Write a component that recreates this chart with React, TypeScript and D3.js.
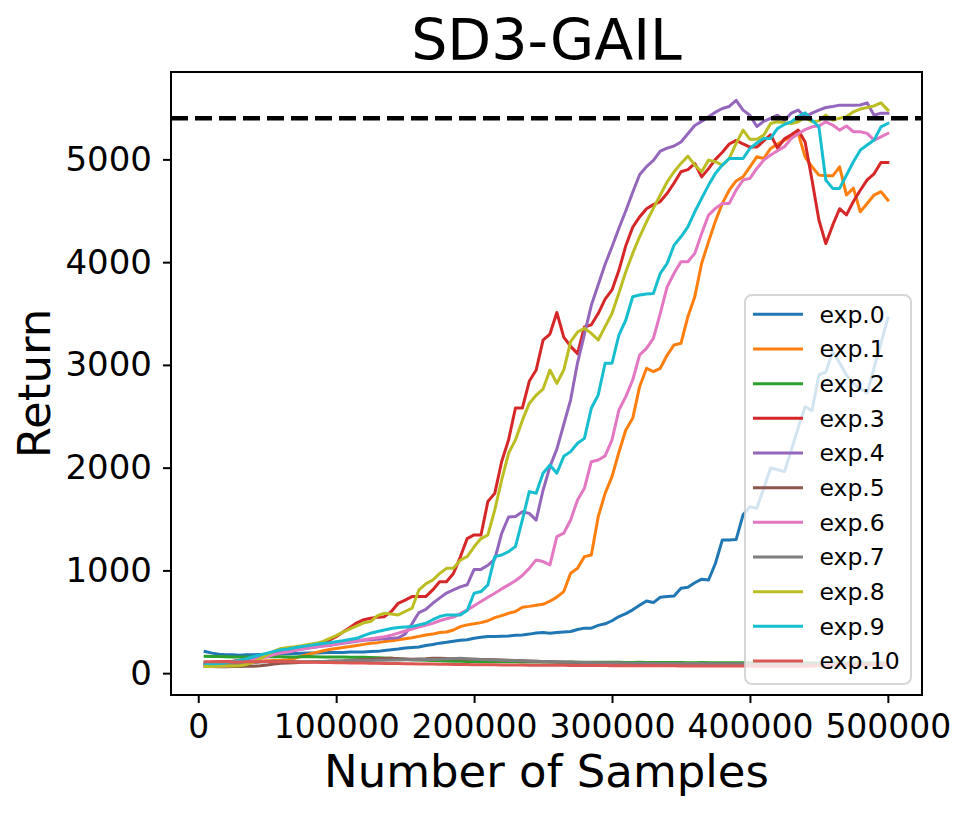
import React, { useRef, useEffect } from 'react';
import * as d3 from 'd3';

// samples are logged every 5000 steps, 5000 ... 500000
const STEP = 5000;
const SAMPLES = d3.range(1, 101).map(k => k * STEP);

const EXP_0 = [
  210, 195, 185, 180, 178, 175, 178, 180, 182, 185,
  188, 190, 190, 192, 193, 195, 196, 198, 200, 200,
  202, 205, 205, 207, 210, 212, 220, 228, 235, 245,
  250, 255, 270, 278, 292, 300, 310, 320, 325, 340,
  350, 356, 356, 360, 362, 368, 372, 380, 390, 395,
  389, 395, 400, 405, 425, 438, 438, 465, 480, 510,
  551, 580, 616, 660, 703, 687, 739, 745, 752, 827,
  837, 880, 915, 907, 1070, 1297, 1297, 1300, 1540, 1621,
  1605, 1800, 1997, 1980, 1961, 2170, 2390, 2593, 2555, 2902,
  2930, 3128, 3020, 2900, 2820, 2770, 2726, 2970, 3210, 3456,
];
const EXP_1 = [
  95, 95, 98, 100, 102, 105, 108, 110, 115, 120,
  122, 125, 130, 145, 165, 185, 200, 215, 230, 240,
  250, 259, 270, 280, 290, 297, 307, 315, 325, 335,
  345, 358, 372, 380, 395, 400, 420, 453, 470, 480,
  492, 510, 540, 560, 583, 600, 642, 650, 660, 670,
  700, 740, 794, 973, 1021, 1134, 1150, 1523, 1750, 1913,
  2150, 2367, 2480, 2788, 2967, 2934, 2967, 3096, 3194, 3210,
  3469, 3663, 3990, 4200, 4400, 4572, 4700, 4790, 4831, 4928,
  5025, 5009, 5107, 5150, 5188, 5220, 5253, 5025, 4928, 4847,
  4840, 4840, 4928, 4653, 4720, 4490, 4570, 4653, 4686, 4604,
];
const EXP_2 = [
  165, 163, 162, 160, 158, 158, 157, 158, 160, 160,
  161, 160, 158, 158, 160, 161, 160, 158, 158, 157,
  157, 156, 155, 154, 152, 150, 148, 145, 140, 135,
  130, 128, 125, 122, 120, 118, 116, 115, 114, 113,
  112, 112, 111, 110, 110, 111, 109, 109, 108, 108,
  108, 107, 107, 108, 106, 106, 107, 105, 105, 106,
  105, 104, 104, 105, 104, 103, 103, 104, 103, 103,
  102, 102, 103, 102, 102, 101, 101, 102, 101, 101,
  101, 100, 101, 100, 100, 101, 100, 100, 101, 100,
  100, 101, 100, 100, 100, 101, 100, 100, 100, 100,
];
const EXP_3 = [
  100, 105, 110, 110, 115, 125, 140, 150, 160, 175,
  190, 200, 215, 225, 240, 255, 265, 285, 320, 355,
  400, 445, 490, 520, 535, 545, 550, 600, 680, 710,
  745, 745, 745, 810, 890, 890, 970, 1130, 1310, 1345,
  1345, 1670, 1750, 2060, 2270, 2580, 2580, 2840, 2950, 3240,
  3300, 3510, 3270, 3180, 3110, 3370, 3390, 3500, 3640, 3730,
  3920, 4160, 4340, 4440, 4520, 4560, 4590, 4670, 4770, 4880,
  4900, 4960, 4830, 4910, 5000, 5070, 5150, 5185, 5150, 5120,
  5120, 5180, 5240, 5110, 5200, 5240, 5285, 5170, 4800, 4410,
  4180, 4360, 4520, 4460, 4590, 4700, 4800, 4860, 4970, 4970,
];
const EXP_4 = [
  90, 85, 85, 90, 95, 110, 130, 150, 165, 180,
  195, 205, 215, 225, 235, 245, 255, 265, 270, 280,
  290, 300, 310, 320, 325, 330, 335, 340, 345, 380,
  480, 590, 620, 680, 730, 780, 810, 840, 860, 1010,
  1010, 1050, 1110, 1360, 1520, 1525, 1570, 1555, 1490, 1780,
  2010, 2180, 2420, 2660, 3020, 3300, 3580, 3780, 3980, 4150,
  4330, 4500, 4680, 4850, 4930, 4990, 5080, 5110, 5130, 5170,
  5250, 5330, 5370, 5415, 5460, 5495, 5515, 5575, 5480, 5430,
  5320, 5370, 5400, 5430, 5380, 5450, 5480, 5415, 5450, 5480,
  5505, 5515, 5528, 5528, 5528, 5530, 5550, 5430, 5450, 5450,
];
const EXP_5 = [
  65, 64, 63, 63, 64, 65, 66, 68, 72, 80,
  90, 97, 100, 102, 105, 108, 110, 112, 115, 118,
  120, 124, 128, 132, 136, 140, 142, 145, 140, 138,
  135, 138, 140, 145, 146, 142, 140, 138, 136, 135,
  134, 132, 130, 128, 125, 122, 120, 118, 115, 112,
  110, 108, 106, 105, 104, 102, 100, 99, 98, 97,
  96, 95, 94, 93, 92, 92, 91, 90, 90, 89,
  89, 88, 88, 87, 87, 86, 86, 85, 85, 85,
  84, 84, 83, 83, 83, 82, 82, 82, 81, 81,
  81, 80, 80, 80, 80, 79, 79, 79, 78, 78,
];
const EXP_6 = [
  65, 66, 68, 70, 78, 85, 105, 125, 145, 160,
  180, 195, 205, 220, 232, 245, 255, 265, 275, 285,
  295, 305, 315, 325, 335, 345, 355, 370, 390, 410,
  430, 450, 465, 485, 510, 530, 545, 580, 616, 655,
  697, 738, 778, 820, 859, 900, 950, 1020, 1102, 1086,
  1053, 1329, 1362, 1491, 1686, 1800, 2058, 2075, 2115, 2270,
  2561, 2691, 2853, 3096, 3161, 3259, 3502, 3761, 3891, 4004,
  4004, 4085, 4280, 4458, 4523, 4572, 4572, 4701, 4799, 4815,
  4912, 4993, 5042, 5085, 5123, 5204, 5250, 5290, 5317, 5325,
  5366, 5334, 5285, 5325, 5269, 5269, 5253, 5188, 5220, 5253,
];
const EXP_7 = [
  90, 88, 86, 85, 86, 88, 92, 100, 108, 112,
  115, 114, 113, 113, 112, 112, 113, 114, 115, 116,
  118, 120, 121, 122, 124, 125, 126, 127, 128, 130,
  130, 131, 132, 134, 136, 138, 140, 145, 140, 136,
  132, 130, 128, 126, 124, 122, 120, 117, 115, 113,
  111, 110, 108, 106, 105, 104, 103, 102, 101, 100,
  99, 98, 97, 97, 96, 96, 95, 95, 94, 94,
  93, 93, 93, 92, 92, 92, 91, 91, 91, 90,
  90, 90, 90, 89, 89, 89, 89, 88, 88, 88,
  88, 88, 87, 87, 87, 87, 87, 86, 86, 86,
];
const EXP_8 = [
  65, 65, 68, 70, 70, 72, 85, 105, 140, 180,
  215, 240, 250, 258, 268, 280, 290, 307, 335, 365,
  400, 430, 460, 490, 502, 560, 583, 575, 567, 600,
  632, 810, 870, 905, 970, 1020, 1021, 1100, 1135, 1230,
  1310, 1345, 1590, 1880, 2140, 2270, 2460, 2625, 2705, 2765,
  2950, 2820, 2950, 3226, 3320, 3356, 3307, 3242, 3372, 3500,
  3700, 3907, 4085, 4247, 4393, 4523, 4653, 4782, 4880, 4961,
  5032, 4945, 4880, 4993, 4977, 4945, 5009, 5156, 5285, 5195,
  5195, 5236, 5350, 5366, 5358, 5350, 5366, 5408, 5366, 5375,
  5431, 5382, 5400, 5415, 5463, 5490, 5505, 5520, 5550, 5480,
];
const EXP_9 = [
  95, 92, 95, 100, 112, 125, 140, 160, 178, 195,
  212, 227, 235, 248, 259, 268, 278, 288, 295, 305,
  315, 328, 340, 365, 389, 405, 420, 435, 445, 450,
  453, 470, 486, 520, 551, 567, 567, 567, 610, 778,
  794, 859, 1134, 1150, 1183, 1232, 1491, 1767, 1751, 1946,
  2026, 1946, 2110, 2156, 2237, 2285, 2578, 2707, 3016, 3016,
  3291, 3437, 3663, 3680, 3690, 3696, 3891, 3988, 4166, 4247,
  4344, 4490, 4621, 4750, 4864, 4945, 5009, 5009, 5009, 5107,
  5160, 5204, 5204, 5301, 5340, 5366, 5415, 5454, 5382, 5317,
  4800, 4718, 4718, 4847, 4977, 5090, 5140, 5188, 5317, 5350,
];
const EXP_10 = [
  112, 112, 110, 110, 108, 108, 110, 112, 114, 113,
  112, 110, 110, 108, 108, 106, 105, 104, 103, 102,
  101, 100, 99, 98, 97, 96, 95, 94, 93, 92,
  91, 90, 89, 88, 87, 86, 85, 84, 84, 83,
  82, 82, 81, 80, 80, 79, 79, 78, 78, 77,
  77, 76, 76, 75, 75, 75, 74, 74, 74, 73,
  73, 73, 72, 72, 72, 71, 71, 71, 71, 70,
  70, 70, 70, 70, 69, 69, 69, 69, 69, 69,
  68, 68, 68, 68, 68, 68, 68, 68, 70, 72,
  74, 76, 78, 80, 82, 84, 85, 86, 87, 88,
];

const SERIES = [EXP_0, EXP_1, EXP_2, EXP_3, EXP_4, EXP_5, EXP_6, EXP_7, EXP_8, EXP_9, EXP_10];
const LABELS = ['exp.0', 'exp.1', 'exp.2', 'exp.3', 'exp.4', 'exp.5', 'exp.6', 'exp.7', 'exp.8', 'exp.9', 'exp.10'];
const COLORS = [
  '#1f77b4', '#ff7f0e', '#2ca02c', '#d62728', '#9467bd', '#8c564b',
  '#e377c2', '#7f7f7f', '#bcbd22', '#17becf', '#dc5652',
];

const X_TICKS = [0, 100000, 200000, 300000, 400000, 500000];
const Y_TICKS = [0, 1000, 2000, 3000, 4000, 5000];
const EXPERT_RETURN = 5400;

const WIDTH = 969;
const HEIGHT = 813;
const FONT = 'DejaVu Sans';

const App = () => {
  const svgRef = useRef<SVGSVGElement | null>(null);

  useEffect(() => {
    const box = { left: 171, top: 72, right: 922, bottom: 695 };

    // matplotlib style autoscale: 5% margin on both sides
    const xMin = d3.min(SAMPLES) as number;
    const xMax = d3.max(SAMPLES) as number;
    const xPad = (xMax - xMin) * 0.05;
    const allValues = SERIES.flat();
    const yMin = d3.min(allValues) as number;
    const yMax = d3.max(allValues) as number;
    const yPad = (yMax - yMin) * 0.05;

    const x = d3.scaleLinear()
      .domain([xMin - xPad, xMax + xPad])
      .range([box.left, box.right]);

    const y = d3.scaleLinear()
      .domain([yMin - yPad, yMax + yPad])
      .range([box.bottom, box.top]);

    const svg = d3.select(svgRef.current);
    svg.selectAll('*').remove();

    svg.append('rect')
      .attr('width', WIDTH)
      .attr('height', HEIGHT)
      .attr('fill', 'white');

    // curves
    const line = d3.line<number>()
      .x((_, i) => x(SAMPLES[i]))
      .y(d => y(d));

    const curves = svg.append('g');
    SERIES.forEach((values, k) => {
      curves.append('path')
        .datum(values)
        .attr('fill', 'none')
        .attr('stroke', COLORS[k])
        .attr('stroke-width', 3)
        .attr('stroke-linejoin', 'round')
        .attr('stroke-linecap', 'square')
        .attr('d', line);
    });

    // expert level
    svg.append('line')
      .attr('x1', box.left)
      .attr('x2', box.right)
      .attr('y1', y(EXPERT_RETURN))
      .attr('y2', y(EXPERT_RETURN))
      .attr('stroke', 'black')
      .attr('stroke-width', 4.5)
      .attr('stroke-dasharray', '17,7');

    // axes
    const xAxis = d3.axisBottom(x)
      .tickValues(X_TICKS)
      .tickFormat(d3.format('d'))
      .tickSize(8)
      .tickPadding(12);

    const gx = svg.append('g')
      .attr('transform', `translate(0,${box.bottom})`)
      .call(xAxis);
    gx.select('.domain').remove();
    gx.selectAll('line').attr('stroke-width', 2);
    gx.attr('font-size', 33).attr('font-family', FONT);

    const yAxis = d3.axisLeft(y)
      .tickValues(Y_TICKS)
      .tickFormat(d3.format('d'))
      .tickSize(8)
      .tickPadding(11);

    const gy = svg.append('g')
      .attr('transform', `translate(${box.left},0)`)
      .call(yAxis);
    gy.select('.domain').remove();
    gy.selectAll('line').attr('stroke-width', 2);
    gy.attr('font-size', 34).attr('font-family', FONT);

    svg.append('rect')
      .attr('x', box.left)
      .attr('y', box.top)
      .attr('width', box.right - box.left)
      .attr('height', box.bottom - box.top)
      .attr('fill', 'none')
      .attr('stroke', 'black')
      .attr('stroke-width', 2);

    // titles
    svg.append('text')
      .attr('x', (box.left + box.right) / 2)
      .attr('y', 60)
      .attr('text-anchor', 'middle')
      .attr('font-family', FONT)
      .attr('font-size', 57)
      .text('SD3-GAIL');

    svg.append('text')
      .attr('x', (box.left + box.right) / 2)
      .attr('y', 787)
      .attr('text-anchor', 'middle')
      .attr('font-family', FONT)
      .attr('font-size', 45)
      .text('Number of Samples');

    svg.append('text')
      .attr('transform', `translate(50,${(box.top + box.bottom) / 2}) rotate(-90)`)
      .attr('text-anchor', 'middle')
      .attr('font-family', FONT)
      .attr('font-size', 45)
      .text('Return');

    // legend
    const legend = svg.append('g');
    legend.append('rect')
      .attr('x', 745)
      .attr('y', 295)
      .attr('width', 166)
      .attr('height', 389)
      .attr('rx', 7)
      .attr('fill', 'white')
      .attr('fill-opacity', 0.8)
      .attr('stroke', '#cccccc')
      .attr('stroke-opacity', 0.8)
      .attr('stroke-width', 2);

    const rowY = d3.scalePoint<string>()
      .domain(LABELS)
      .range([314.3, 661]);

    LABELS.forEach((label, k) => {
      const cy = rowY(label) as number;
      legend.append('line')
        .attr('x1', 753)
        .attr('x2', 803)
        .attr('y1', cy)
        .attr('y2', cy)
        .attr('stroke', COLORS[k])
        .attr('stroke-width', 3);
      legend.append('text')
        .attr('x', 819.5)
        .attr('y', cy)
        .attr('dy', '0.35em')
        .attr('font-family', FONT)
        .attr('font-size', 23.5)
        .text(label);
    });
  }, []);

  return (
    <div>
      <svg
        ref={svgRef}
        width={WIDTH}
        height={HEIGHT}
        style={{ position: 'absolute', left: 0, top: 0, display: 'block' }}
      />
    </div>
  );
};

export default App;
